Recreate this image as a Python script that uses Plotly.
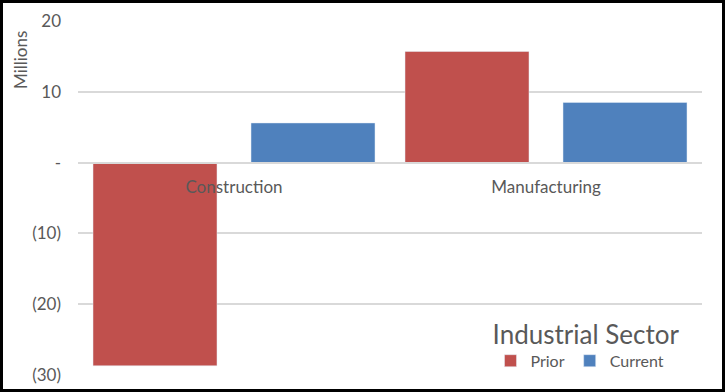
import plotly.graph_objects as go

categories = ["Construction", "Manufacturing"]
prior = [-28.7, 15.7]
current = [5.6, 8.5]
ytick_vals = [20, 10, 0, -10, -20, -30]
ytick_text = ["20", "10", "-", "(10)", "(20)", "(30)"]

W, H = 725, 392
L, R, T, B = 78, 23, 21, 17
pw, ph = W - L - R, H - T - B
cat_px = pw / len(categories)
bar_w = 124 / cat_px

grey = "#595959"
font = "Lato"

fig = go.Figure()
fig.add_trace(go.Bar(name="Prior", x=categories, y=prior, marker_color="#C0504D",
                     width=bar_w, offset=-141 / cat_px))
fig.add_trace(go.Bar(name="Current", x=categories, y=current, marker_color="#4F81BD",
                     width=bar_w, offset=17 / cat_px))

fig.update_layout(
    width=W, height=H,
    margin=dict(l=L, r=R, t=T, b=B, autoexpand=False),
    paper_bgcolor="white", plot_bgcolor="white",
    barmode="overlay",
    font=dict(family=font, color=grey, size=16),
    xaxis=dict(
        anchor="free", position=30 / 50, range=[-0.5, 1.5],
        showline=True, linecolor="#D9D9D9", linewidth=1.5,
        showgrid=False, ticks="", ticklabelstandoff=9,
        tickfont=dict(size=17, color=grey, family=font),
    ),
    yaxis=dict(
        range=[-30, 20], tickvals=ytick_vals, ticktext=ytick_text,
        showgrid=True, gridcolor="#D9D9D9", gridwidth=1.5,
        zeroline=False, showline=False, ticks="",
        ticklabelstandoff=16,
        tickfont=dict(size=17, color=grey, family=font),
    ),
    legend=dict(
        orientation="h", x=(586 - L) / pw, xanchor="center",
        y=(375 - 378) / ph, yanchor="bottom",
        bgcolor="rgba(255,255,255,0)",
        title=dict(text="Industrial Sector", side="top center",
                   font=dict(size=26, color=grey, family=font)),
        font=dict(size=16, color=grey, family=font),
        itemwidth=30, tracegroupgap=0,
    ),
    showlegend=True,
)

fig.add_annotation(
    text="Millions", textangle=-90, xref="paper", yref="paper",
    x=(20 - L) / pw, y=(H - B - 60) / ph, showarrow=False,
    font=dict(size=17, color=grey, family=font), xanchor="center", yanchor="middle",
)

fig.add_shape(
    type="rect", xref="paper", yref="paper",
    x0=(1.5 - L) / pw, x1=(W - 1.5 - L) / pw,
    y0=-(B - 1.5) / ph, y1=(H - B - 1.5) / ph,
    line=dict(color="#000000", width=3), fillcolor="rgba(0,0,0,0)", layer="above",
)

fig.write_html("out.html", config={"displayModeBar": False},
               post_script="document.body.style.margin='0';document.body.style.overflow='hidden';")
